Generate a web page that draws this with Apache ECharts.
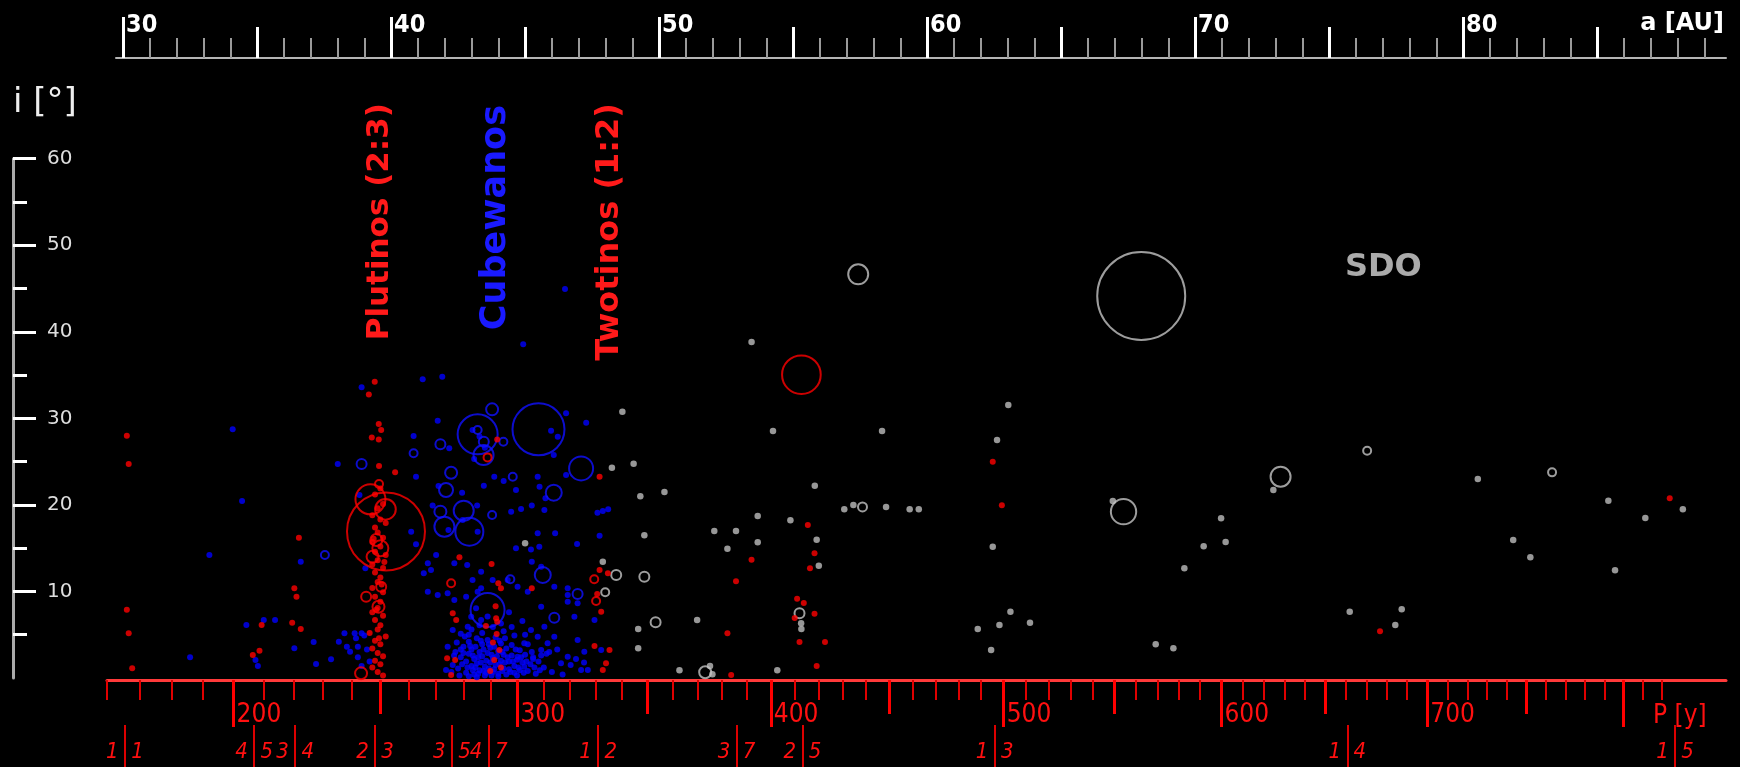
<!DOCTYPE html>
<html><head><meta charset="utf-8">
<script src="https://cdn.jsdelivr.net/npm/echarts@6/dist/echarts.min.js"></script>
<style>html,body{margin:0;padding:0;background:#000;}#c{width:1740px;height:767px;}</style>
</head><body><div id="c"></div>
<script>
// ---------- tick / label data ----------
const aMajorTicks = [30, 40, 50, 60, 70, 80];
const aMidTicks = [35, 45, 55, 65, 75, 85];
const iTicks = [10, 20, 30, 40, 50, 60];
const pMajorTicks = [200, 300, 400, 500, 600, 700, 800];
const pMajorLabels = [200, 300, 400, 500, 600, 700];
const pMidTicks = [250, 350, 450, 550, 650, 750];
const resLabels = ['1  1','4  5','3  4','2  3','3  5','4  7','1  2','3  7','2  5','1  3','1  4','1  5'];
const resA = [30.07, 34.89, 36.42, 39.40, 42.27, 43.64, 47.73, 52.89, 55.35, 62.52, 75.68, 87.91];

// ---------- objects: [a (AU), i (deg)] ; circles: [a, i, diameter km] ----------
const redDots = [
 [30.14,27.99],[30.21,24.72],[30.14,7.89],[30.21,5.16],[30.34,1.12],
 [39.39,34.23],[39.17,32.77],
 [36.56,16.21],[36.39,10.36],[36.47,9.39],[36.31,6.39],[36.63,5.66],[35.17,6.12],[35.09,3.16],[34.84,2.66],
 [39.54,29.34],[39.63,28.65],[39.28,27.80],[39.54,27.57],[39.55,24.49],[40.15,23.76],
 [39.6,21.9],[39.4,21.2],[39.7,20.1],[39.5,19.6],[39.3,18.8],[39.6,18.3],[39.8,17.9],[39.4,17.4],[39.5,16.8],
 [39.7,16.2],[39.3,15.7],[39.6,15.2],[39.4,14.6],[39.8,14.2],[39.5,13.6],[39.3,13.1],[39.7,12.7],[39.4,12.2],
 [39.6,11.6],[39.5,11.1],[39.3,10.4],[39.7,9.9],[39.4,9.4],[39.6,8.8],[39.5,8.1],[39.3,7.6],[39.7,7.2],[39.4,6.7],
 [39.6,6.1],[39.5,5.6],[39.2,5.2],[39.8,4.8],[39.4,4.3],[39.6,3.9],[39.3,3.4],[39.5,2.9],[39.7,2.5],[39.4,2.0],
 [39.6,1.6],[39.3,1.2],[39.5,0.7],[39.7,0.3],[39.55,4.6],[39.45,7.9],[39.65,10.8],[39.35,16.1],[39.75,13.4],
 [42.55,13.94],[43.75,13.17],[44.00,10.94],[44.10,10.36],[45.25,10.36],[43.92,6.89],[43.96,6.5],[43.94,5.08],
 [44.04,3.23],[43.85,2.08],[43.54,6.01],[42.30,7.47],[42.43,6.70],[42.09,2.27],[42.39,2.08],[42.24,0.35],
 [43.96,27.57],[47.78,23.26],[43.8,4.1],[44.1,1.2],[43.7,0.8],[43.9,8.3],
 [47.78,12.48],[48.09,12.09],[47.69,9.70],[47.84,7.66],[47.59,3.70],[48.15,3.23],[48.02,1.70],[47.90,0.92],
 [55.55,17.68],[55.80,14.41],[55.63,12.67],[53.45,13.67],[52.87,11.17],[55.15,9.16],[55.40,8.66],[55.06,6.93],
 [55.80,7.43],[52.55,5.16],[55.24,4.16],[56.19,4.16],[55.88,1.39],[52.69,0.35],
 [62.45,24.99],[62.79,19.95],[87.71,20.76],[76.90,5.39]
];
const redCircles = [
 [39.81,16.94,2340],[39.23,20.64,900],[39.79,19.49,620],[55.31,35.04,1160],
 [39.55,22.41,240],[39.45,15.94,360],[39.60,14.98,480],[39.31,14.01,360],[39.63,10.55,300],
 [39.07,9.39,300],[39.53,8.24,360],[38.88,0.54,360],[43.60,25.49,240],[42.24,10.94,240],
 [47.58,11.40,240],[47.65,8.90,240]
];
const blueDots = [
 [34.09,28.73],[34.44,20.45],[33.22,14.21],[32.50,2.39],[38.01,24.72],[38.90,33.58],[36.63,13.44],
 [34.60,6.12],[35.25,6.70],[35.67,6.70],[34.94,2.08],[35.03,1.39],[36.39,3.43],[37.11,4.16],[37.20,1.62],
 [37.76,2.16],[38.26,5.16],[38.64,5.16],[38.90,5.16],[38.05,4.20],[38.35,3.62],[38.69,4.58],[38.47,3.04],
 [38.76,3.62],[38.76,2.39],[38.90,1.39],[39.04,12.67],[38.82,21.14],[39.1,3.3],[39.0,4.9],[39.2,1.9],
 [41.18,34.51],[41.91,34.81],[44.93,38.55],[41.74,29.72],[43.04,28.65],[45.97,28.57],[46.22,27.88],
 [46.53,30.58],[47.28,29.50],[46.07,25.76],[46.53,23.45],[40.84,27.96],[40.93,23.26],[42.17,26.54],
 [41.77,22.18],[42.65,21.41],[43.46,22.22],[44.20,22.76],[43.85,23.26],[45.54,22.10],[44.66,21.72],
 [45.47,23.26],[47.7,19.1],[47.9,19.3],[48.1,19.5],[41.55,19.93],[43.21,19.93],[43.23,16.90],[42.14,17.10],
 [42.67,18.25],[40.75,16.90],[40.93,15.45],[44.48,19.22],[44.85,19.52],[45.25,19.93],[45.72,19.41],
 [45.76,20.76],[46.12,16.72],[46.94,15.48],[47.78,16.44],[41.68,14.21],[41.37,13.25],[41.22,12.09],
 [41.49,12.48],[42.36,13.25],[42.84,13.05],[43.36,12.28],[43.04,11.32],[44.66,14.98],[45.22,14.86],
 [45.53,15.17],[45.25,13.44],[45.60,12.86],[41.37,9.97],[41.74,9.59],[42.11,9.79],[42.80,9.39],[43.23,9.97],
 [46.59,10.36],[46.59,9.59],[46.59,8.82],[46.09,10.55],[44.72,10.55],[47.59,6.70],[47.84,3.23],[46.49,44.94],
 [45.47,16.72],[43.3,27.9],[43.5,26.6],[43.1,25.3],
 [42.36,9.01],[43.36,10.36],[43.79,11.32],[44.35,11.32],[45.10,9.97],[45.60,8.24],[46.96,8.63],[46.84,7.08],
 [46.96,4.39],[47.21,3.04],[47.34,0.92],[47.09,0.92],[46.59,2.46],[46.34,1.70],[46.09,4.77],[45.84,4.01],
 [45.60,3.23],[45.47,4.77],[45.72,5.93],[45.22,5.55],[44.97,4.01],[44.72,2.46],[44.97,1.31],[42.11,3.62],
 [42.30,5.55],[42.05,0.92],[42.99,7.08],[43.17,8.05],[43.36,6.70],[42.86,5.93],
 [42.5,1.1],[42.6,2.4],[42.7,3.6],[42.8,0.6],[42.8,1.9],[42.9,4.2],[42.9,2.8],[43.0,1.4],[43.0,3.3],[43.1,0.4],
 [43.1,2.2],[43.2,4.6],[43.2,1.7],[43.3,3.0],[43.3,0.9],[43.4,2.5],[43.4,3.9],[43.5,1.3],[43.5,0.3],[43.6,2.9],
 [43.6,4.4],[43.7,1.8],[43.7,3.5],[43.8,0.7],[43.8,2.3],[43.9,1.5],[44.0,3.1],[44.0,0.5],[44.1,2.0],[44.1,4.0],
 [44.2,1.1],[44.2,2.7],[44.3,0.4],[44.3,3.4],[44.4,1.9],[44.4,1.0],[44.5,2.6],[44.5,3.8],[44.6,1.4],[44.6,0.6],
 [44.7,2.1],[44.8,3.2],[44.8,0.9],[44.9,1.8],[45.0,2.7],[45.1,0.8],[45.1,3.9],[45.2,1.6],[45.3,2.4],[45.4,0.5],
 [45.5,1.9],[45.7,1.2],[45.8,2.8],[46.0,0.7],[46.2,3.3],[46.4,0.4],[46.7,1.5],[46.9,2.2],[47.2,1.8],[42.6,5.1],
 [43.0,5.6],[43.4,5.2],[43.8,5.9],[44.2,5.4],[44.6,4.9],[44.1,6.3],[43.6,7.1],[44.4,7.6],[44.9,6.6],[42.9,0.2],
 [43.2,0.1],[44.0,0.2],[44.7,0.3],[43.9,4.7],[42.4,3.0],[42.3,1.5],[45.3,2.2],[45.6,2.6],[45.9,3.0],
 [42.25,0.7],[42.35,2.6],[42.45,4.1],[42.55,0.3],[42.65,1.6],[42.7,2.9],[42.75,4.8],[42.85,1.2],[42.95,3.7],
 [43.05,2.6],[43.05,0.9],[43.15,3.6],[43.15,1.2],[43.25,2.4],[43.25,0.5],[43.35,1.8],[43.35,4.3],[43.45,0.8],
 [43.45,3.3],[43.55,2.0],[43.55,0.6],[43.65,1.1],[43.65,3.9],[43.75,2.7],[43.75,0.3],[43.85,3.6],[43.85,1.0],
 [43.95,2.5],[44.05,1.6],[44.05,4.3],[44.15,0.8],[44.15,3.0],[44.25,1.8],[44.25,4.6],[44.35,2.4],[44.45,0.7],
 [44.55,1.9],[44.65,3.3],[44.75,1.2],[44.85,2.4],[44.95,0.6],[45.05,1.9],[45.25,3.0],[45.35,1.2],[45.55,0.9],
 [42.6,3.3],[42.9,5.0],[43.3,6.1],[44.5,5.9],[45.0,5.0]
];
const blueCircles = [
 [43.23,28.15,1200],[45.50,28.73,1560],[43.23,28.65,240],[43.46,27.30,300],[43.45,25.76,600],
 [43.77,31.04,360],[44.19,27.30,240],[47.09,24.22,720],[41.84,27.0,300],[40.84,25.96,240],[42.24,23.72,360],
 [42.05,21.72,420],[44.54,23.26,240],[46.07,21.41,480],[41.84,19.22,360],[42.71,19.33,600],[41.99,17.48,600],
 [42.92,16.90,840],[43.77,18.83,240],[45.66,11.90,480],[44.45,11.40,240],[43.60,7.86,1020],[46.09,6.97,300],
 [46.96,9.70,300],[38.90,24.72,300],[37.53,14.21,240]
];
const grayDots = [
 [53.45,38.82],[48.63,30.77],[54.25,28.53],[58.32,28.53],[49.05,24.76],[49.30,20.99],[50.20,21.49],[55.81,22.22],
 [56.91,19.49],[57.25,19.99],[58.47,19.76],[59.35,19.49],[59.69,19.49],[53.68,18.72],[54.90,18.22],[49.45,16.49],
 [52.06,16.98],[52.87,16.98],[53.68,15.68],[52.55,14.94],[55.88,15.98],[55.96,12.97],[55.30,6.32],[55.31,5.66],
 [51.42,6.70],[49.22,5.66],[49.22,3.43],[50.76,0.89],[51.90,1.39],[51.99,0.43],[54.41,0.89],[61.89,5.66],
 [48.24,24.30],[45.00,15.56],[47.90,13.44],
 [63.03,31.54],[62.61,27.50],[62.45,15.17],[66.93,20.45],[72.92,21.72],[70.97,18.45],[71.14,15.71],[70.32,15.21],
 [69.60,12.67],[75.77,7.66],[63.11,7.66],[62.70,6.12],[63.84,6.39],[62.39,3.23],[68.53,3.89],[69.19,3.43],
 [80.55,22.99],[85.42,20.49],[88.20,19.49],[86.80,18.48],[81.87,15.94],[82.51,13.94],[85.67,12.44],[77.71,7.93],
 [77.47,6.12]
];
const grayCircles = [
 [67.99,44.13,2640],[57.43,46.64,600],[67.33,19.22,760],[73.19,23.26,600],[76.42,26.26,240],[83.32,23.76,240],
 [57.59,19.76,270],[49.45,11.70,300],[55.24,7.47,300],[49.87,6.43,300],[51.72,0.66,360],[48.40,11.90,300],
 [47.99,9.90,240]
];

// ---------- helpers ----------
const A_MIN = 29.4, A_MAX = 89.81;      // main plot range
const A_MIN_TOP = 29.736;               // top a-scale starts a little later
const pToA = p => Math.pow(p / 1.0033, 2 / 3);
const aMinorTicks = [];
for (let a = 31; a <= 89; a++) if (a % 5 !== 0) aMinorTicks.push(a);
const pMinorTicks = [];
for (let p = 160; p <= 820; p += 10) if (p % 50 !== 0) pMinorTicks.push(p);
const pMajorA = pMajorTicks.map(pToA);
const pLabelA = pMajorLabels.map(pToA);
function nearestIdx(arr, v) { let b = 0; arr.forEach((x, k) => { if (Math.abs(x - v) < Math.abs(arr[b] - v)) b = k; }); return b; }

const NARROW = "'Liberation Sans Narrow','DejaVu Sans Condensed',sans-serif";
const COND = "'DejaVu Sans Condensed','DejaVu Sans',sans-serif";

function xax(extra) {
  const base = {
    type: 'value', min: A_MIN, max: A_MAX, gridIndex: 0,
    splitLine: { show: false }, axisLine: { show: false, onZero: false },
    axisTick: { show: false }, axisLabel: { show: false }
  };
  const o = Object.assign(base, extra);
  o.axisLine = Object.assign({ onZero: false }, o.axisLine);
  return o;
}

const chart = echarts.init(document.getElementById('c'), null, { renderer: 'canvas' });
const circleSize = v => v[2] / 30;
const XI = 3, YI = 0; // series use the bottom a-axis of the main grid

chart.setOption({
  backgroundColor: '#000',
  animation: false,
  grid: [
    { left: 107, right: 14, top: 158.7, bottom: 89, outerBoundsMode: 'none', containLabel: false },
    { left: 116, right: 14, top: 58, height: 2, outerBoundsMode: 'none', containLabel: false }
  ],
  xAxis: [
    // top a-axis (own thin grid)
    xax({ gridIndex: 1, position: 'top', min: A_MIN_TOP,
      axisLine: { show: true, onZero: false, lineStyle: { color: '#b4b4b4', width: 2 } },
      axisTick: { show: true, customValues: aMajorTicks, length: 41, lineStyle: { color: '#fff', width: 3 } },
      axisLabel: { show: true, customValues: aMajorTicks, color: '#fff', fontSize: 25, fontWeight: 'bold',
        fontFamily: COND, align: 'left', margin: 20, padding: [0, 0, 0, 3] } }),
    xax({ gridIndex: 1, position: 'top', min: A_MIN_TOP,
      axisTick: { show: true, customValues: aMidTicks, length: 31, lineStyle: { color: '#fff', width: 3 } } }),
    xax({ gridIndex: 1, position: 'top', min: A_MIN_TOP,
      axisTick: { show: true, customValues: aMinorTicks, length: 20, lineStyle: { color: '#9a9a9a', width: 2 } } }),
    // bottom P-axis
    xax({ position: 'bottom', offset: 2,
      axisLine: { show: true, onZero: false, lineStyle: { color: '#ff3a3a', width: 3 } },
      axisTick: { show: true, customValues: pMinorTicks.map(pToA), length: 20, lineStyle: { color: '#e00000', width: 2 } } }),
    xax({ position: 'bottom', offset: 2,
      axisTick: { show: true, customValues: pMidTicks.map(pToA), length: 34, lineStyle: { color: '#ff0000', width: 3 } } }),
    xax({ position: 'bottom', offset: 2,
      axisTick: { show: true, customValues: pMajorA, length: 47, lineStyle: { color: '#ff0000', width: 3 } },
      axisLabel: { show: true, customValues: pLabelA, color: '#ff1010', fontSize: 26, fontFamily: NARROW,
        align: 'left', margin: 22, padding: [0, 0, 0, 3],
        formatter: v => String(pMajorLabels[nearestIdx(pLabelA, v)]) } }),
    // resonances
    xax({ position: 'bottom', offset: 47,
      axisTick: { show: true, customValues: resA, length: 42, lineStyle: { color: '#dd0000', width: 2 } },
      axisLabel: { show: true, customValues: resA, color: '#ff1010', fontSize: 22, fontStyle: 'italic',
        fontFamily: NARROW, align: 'center', margin: 16,
        formatter: v => resLabels[nearestIdx(resA, v)] } })
  ],
  yAxis: [
    {
      type: 'value', min: 0, max: 60, interval: 10, position: 'left', offset: 94, gridIndex: 0,
      axisLine: { show: true, onZero: false, lineStyle: { color: '#aaa', width: 3 } },
      axisTick: { show: true, inside: true, customValues: iTicks, length: 23, lineStyle: { color: '#fff', width: 3 } },
      minorTick: { show: true, splitNumber: 2, length: 14, lineStyle: { color: '#fff', width: 3 } },
      axisLabel: { inside: true, customValues: iTicks, margin: 34, color: '#ddd', fontSize: 20, fontFamily: "'DejaVu Sans',sans-serif" },
      splitLine: { show: false }
    },
    { type: 'value', gridIndex: 1, show: false, min: 0, max: 1 }
  ],
  series: [
    { type: 'scatter', xAxisIndex: XI, yAxisIndex: YI, data: grayDots, symbolSize: 6.5, itemStyle: { color: '#bdbdbd' }, silent: true },
    { type: 'scatter', xAxisIndex: XI, yAxisIndex: YI, data: grayCircles, symbolSize: circleSize, itemStyle: { color: 'rgba(0,0,0,0)', borderColor: '#c4c4c4', borderWidth: 2 }, silent: true },
    { type: 'scatter', xAxisIndex: XI, yAxisIndex: YI, data: blueDots, symbolSize: 6, itemStyle: { color: '#0000ff' }, silent: true },
    { type: 'scatter', xAxisIndex: XI, yAxisIndex: YI, data: blueCircles, symbolSize: circleSize, itemStyle: { color: 'rgba(0,0,0,0)', borderColor: '#1010ff', borderWidth: 2 }, silent: true },
    { type: 'scatter', xAxisIndex: XI, yAxisIndex: YI, data: redDots, symbolSize: 6, itemStyle: { color: '#ff0000' }, silent: true },
    { type: 'scatter', xAxisIndex: XI, yAxisIndex: YI, data: redCircles, symbolSize: circleSize, itemStyle: { color: 'rgba(0,0,0,0)', borderColor: '#ff0000', borderWidth: 2 }, silent: true }
  ],
  graphic: [
    { type: 'text', x: 13, y: 103, style: { text: 'i [°]', fill: '#eee', verticalAlign: 'middle', font: "34px 'DejaVu Sans',sans-serif" } },
    { type: 'text', x: 1724, y: 24, style: { text: 'a [AU]', fill: '#fff', align: 'right', verticalAlign: 'middle', font: "bold 24px 'DejaVu Sans',sans-serif" } },
    { type: 'text', x: 1653, y: 716, style: { text: 'P [y]', fill: '#ff1010', align: 'left', verticalAlign: 'middle', font: "26px " + NARROW } },
    { type: 'text', x: 1345, y: 268, style: { text: 'SDO', fill: '#aaa', align: 'left', verticalAlign: 'middle', font: "bold 32px 'DejaVu Sans',sans-serif" } },
    { type: 'text', x: 380, y: 103, rotation: Math.PI / 2, style: { text: 'Plutinos (2:3)', fill: '#ff1a1a', align: 'right', verticalAlign: 'middle', font: "bold 31px 'DejaVu Sans',sans-serif" } },
    { type: 'text', x: 496, y: 105, rotation: Math.PI / 2, style: { text: 'Cubewanos', fill: '#1a1aff', align: 'right', verticalAlign: 'middle', font: "bold 35px 'DejaVu Sans',sans-serif" } },
    { type: 'text', x: 610, y: 103, rotation: Math.PI / 2, style: { text: 'Twotinos (1:2)', fill: '#ff1a1a', align: 'right', verticalAlign: 'middle', font: "bold 32px 'DejaVu Sans',sans-serif" } }
  ]
});
</script></body></html>
